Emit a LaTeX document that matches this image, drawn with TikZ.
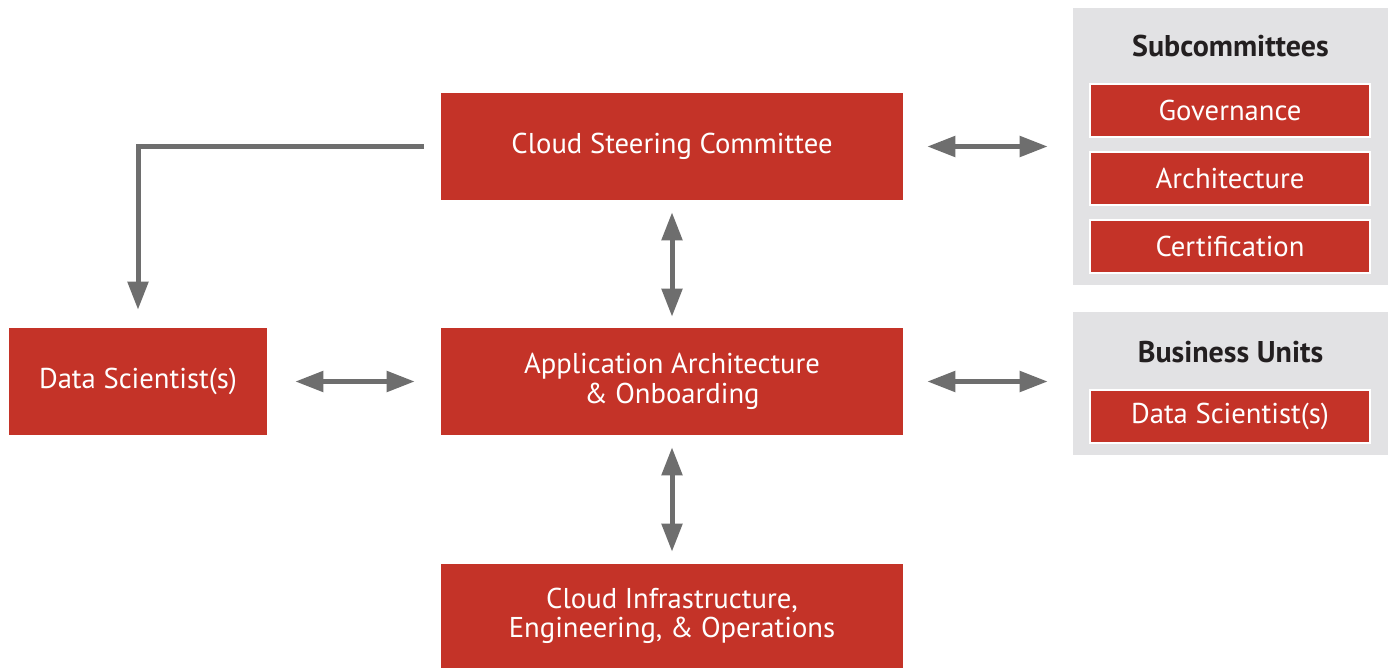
\documentclass[tikz,border=0pt]{standalone}
\usepackage{fontspec}
\setmainfont{PT Sans}
\usetikzlibrary{arrows.meta}
\definecolor{boxred}{HTML}{C43328}
\definecolor{panelgray}{HTML}{E2E2E4}
\definecolor{arrowgray}{HTML}{6E6E6E}
\definecolor{titletext}{HTML}{231F20}
\begin{document}
\begin{tikzpicture}[x=0.75pt,y=-0.75pt,
  redbox/.style={fill=boxred,text=white,inner sep=0pt,align=center,
    font=\fontsize{21.5}{22}\selectfont},
  subbox/.style={redbox,draw=white,line width=1.5pt,minimum width=210pt,minimum height=39.75pt},
  panel/.style={fill=panelgray,inner sep=0pt,minimum width=236.25pt},
  paneltitle/.style={text=titletext,font=\fontsize{22.5}{23}\selectfont\bfseries,inner sep=0pt},
  conn/.style={draw=arrowgray,line width=3.75pt,{Triangle[width=15pt,length=21pt]}-{Triangle[width=15pt,length=21pt]}},
  conn1/.style={draw=arrowgray,line width=3.75pt,-{Triangle[width=15pt,length=21pt]}}]
\useasboundingbox (0,0) rectangle (1390,668);
\fill[white] (0,0) rectangle (1390,668);

\node[redbox,minimum width=346.5pt,minimum height=80.25pt] (csc) at (672,146.5) {Cloud Steering Committee};
\node[redbox,minimum width=346.5pt,minimum height=80.25pt] (app) at (672,381.5) {Application Architecture\\\& Onboarding};
\node[redbox,minimum width=346.5pt,minimum height=78pt] (infra) at (672,616) {Cloud Infrastructure,\\Engineering, \& Operations};
\node[redbox,minimum width=193.5pt,minimum height=80.25pt] (dsl) at (138,381.5) {Data Scientist(s)};

\node[panel,minimum height=207.75pt] (sub) at (1230.5,146.5) {};
\node[paneltitle] (subt) at (1230.5,46) {Subcommittees};
\node[subbox] (gov) at (1230,110.5) {Governance};
\node[subbox] (arch) at (1230,178.5) {Architecture};
\node[subbox] (cert) at (1230,246.5) {Certification};

\node[panel,minimum height=107.25pt] (bu) at (1230.5,383.5) {};
\node[paneltitle] (but) at (1230.5,352) {Business Units};
\node[subbox] (ds2) at (1230,416) {Data Scientist(s)};

\draw[conn,shorten <=18pt,shorten >=18.75pt] (csc.east) -- (sub.west);
\draw[conn,shorten <=18pt,shorten >=18.75pt] (app.east) -- (app.east -| bu.west);
\draw[conn,shorten <=21pt,shorten >=19.5pt] (dsl.east) -- (app.west);
\draw[conn,shorten <=9pt,shorten >=8.25pt] (csc.south) -- (app.north);
\draw[conn,shorten <=9pt,shorten >=9pt] (app.south) -- (infra.north);
\draw[conn1,shorten <=12.75pt,shorten >=13.5pt] (csc.west) -- (csc.west -| dsl.north) -- (dsl.north);
\end{tikzpicture}
\end{document}
